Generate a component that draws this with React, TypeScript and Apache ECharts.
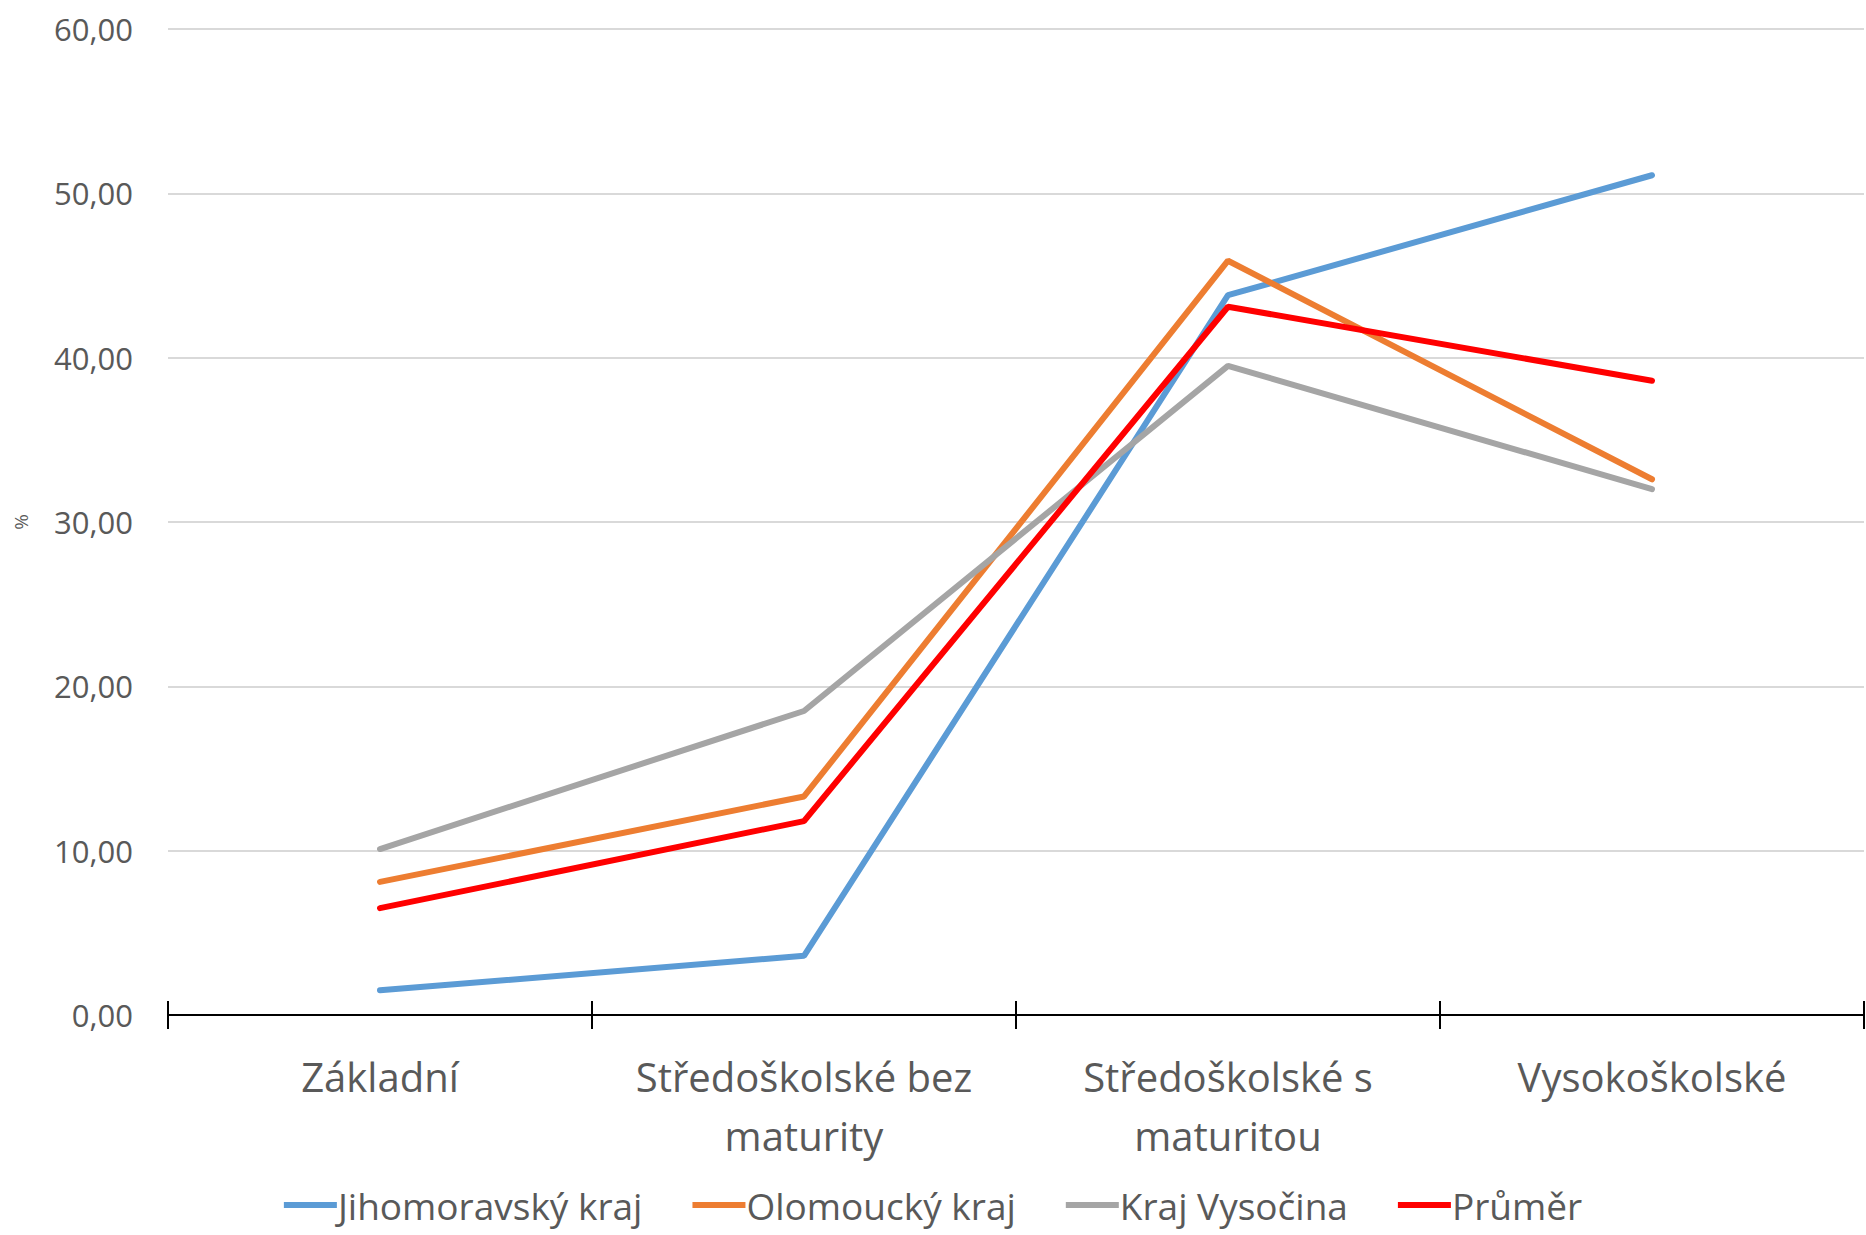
import React, { useEffect, useRef } from "react";
import * as echarts from "echarts";

const categories = ["Základní", "Středoškolské bez\nmaturity", "Středoškolské s\nmaturitou", "Vysokoškolské"];
const jihomoravsky = [1.5, 3.6, 43.8, 51.1];
const olomoucky = [8.1, 13.3, 45.9, 32.6];
const vysocina = [10.1, 18.5, 39.5, 32.0];
const prumer = [6.5, 11.8, 43.1, 38.6];
const seriesNames = ["Jihomoravský kraj", "Olomoucký kraj", "Kraj Vysočina", "Průměr"];
const seriesColors = ["#5B9BD5", "#ED7D31", "#A5A5A5", "#FF0000"];

export default function App() {
  const ref = useRef<HTMLDivElement>(null);
  useEffect(() => {
    if (!ref.current) return;
    const chart = echarts.init(ref.current, null, { renderer: "svg" });
    const datasets = [jihomoravsky, olomoucky, vysocina, prumer];
    chart.setOption({
      animation: false,
      backgroundColor: "#ffffff",
      grid: { left: 168, right: 2, top: 29, bottom: 220, containLabel: false },
      legend: {
        top: 1180,
        left: "center",
        icon: "rect",
        itemWidth: 53,
        itemHeight: 6,
        itemGap: 50,
        textStyle: { fontSize: 37, lineHeight: 40, color: "#595959", fontFamily: "Open Sans", padding: [0, 0, 0, -4] },
        data: seriesNames,
      },
      xAxis: [
        {
          type: "category",
          data: categories,
          boundaryGap: true,
          axisLine: { lineStyle: { color: "#000000", width: 2 } },
          axisTick: { show: true, length: 14, lineStyle: { color: "#000000", width: 2 } },
          axisLabel: {
            fontSize: 40,
            lineHeight: 59,
            color: "#595959",
            fontFamily: "Open Sans",
            margin: 32,
            interval: 0,
          },
        },
        {
          type: "category",
          data: categories,
          position: "bottom",
          boundaryGap: true,
          axisLine: { show: false },
          axisTick: { show: true, inside: true, length: 14, lineStyle: { color: "#000000", width: 2 } },
          axisLabel: { show: false },
        },
      ],
      yAxis: {
        type: "value",
        min: 0,
        max: 60,
        interval: 10,
        name: "%",
        nameLocation: "middle",
        nameGap: 138,
        nameRotate: 90,
        nameTextStyle: { fontSize: 19, color: "#595959", fontFamily: "Open Sans" },
        axisLine: { show: false },
        axisTick: { show: false },
        splitLine: { lineStyle: { color: "#D9D9D9", width: 2 } },
        axisLabel: {
          fontSize: 31,
          color: "#595959",
          fontFamily: "Open Sans",
          margin: 35,
          formatter: (v: number) => v.toFixed(2).replace(".", ","),
        },
      },
      series: datasets.map((d, i) => ({
        name: seriesNames[i],
        type: "line",
        data: d,
        symbol: "none",
        lineStyle: { color: seriesColors[i], width: 6, cap: "round" },
        itemStyle: { color: seriesColors[i] },
      })),
    });
    return () => chart.dispose();
  }, []);
  return (
    <div
      ref={ref}
      style={{ position: "fixed", left: 0, top: 0, width: 1866, height: 1235 }}
    />
  );
}
